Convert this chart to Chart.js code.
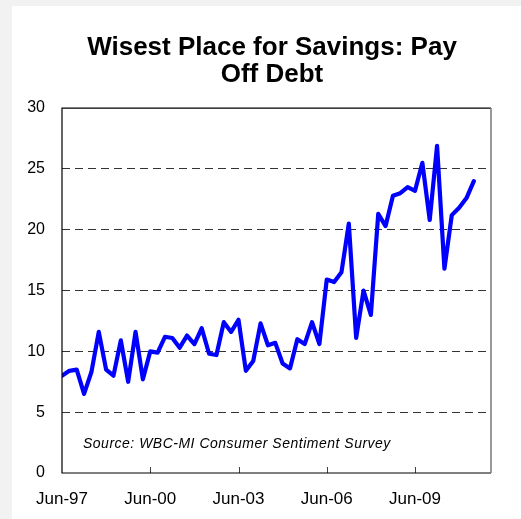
<!DOCTYPE html>
<html>
<head>
<meta charset="utf-8">
<script src="https://cdn.jsdelivr.net/npm/chart.js@4/dist/chart.umd.min.js"></script>
<style>
  html, body { margin: 0; padding: 0; background: #f2f2f2; overflow: hidden; }
  #wrap { position: absolute; left: 12px; top: 6px; width: 509px; height: 513px; background: #ffffff; overflow: hidden; }
  canvas { display: block; }
</style>
</head>
<body>
<div id="wrap"><canvas id="c" width="520" height="513"></canvas></div>
<script>
// ---- Data ----
const quarters = [
  'Jun-97','Sep-97','Dec-97','Mar-98','Jun-98','Sep-98','Dec-98','Mar-99',
  'Jun-99','Sep-99','Dec-99','Mar-00','Jun-00','Sep-00','Dec-00','Mar-01',
  'Jun-01','Sep-01','Dec-01','Mar-02','Jun-02','Sep-02','Dec-02','Mar-03',
  'Jun-03','Sep-03','Dec-03','Mar-04','Jun-04','Sep-04','Dec-04','Mar-05',
  'Jun-05','Sep-05','Dec-05','Mar-06','Jun-06','Sep-06','Dec-06','Mar-07',
  'Jun-07','Sep-07','Dec-07','Mar-08','Jun-08','Sep-08','Dec-08','Mar-09',
  'Jun-09','Sep-09','Dec-09','Mar-10','Jun-10','Sep-10','Dec-10','Mar-11',
  'Jun-11'
];
const payOffDebt = [
  8.0, 8.4, 8.5, 6.5, 8.3, 11.6, 8.5, 8.0,
  10.9, 7.5, 11.6, 7.7, 10.0, 9.9, 11.2, 11.1,
  10.3, 11.3, 10.6, 11.9, 9.8, 9.7, 12.4, 11.6,
  12.6, 8.4, 9.2, 12.3, 10.5, 10.7, 9.0, 8.6,
  11.0, 10.6, 12.4, 10.6, 15.9, 15.7, 16.5, 20.5,
  11.1, 15.0, 13.0, 21.3, 20.3, 22.8, 23.0, 23.5,
  23.2, 25.5, 20.8, 26.9, 16.8, 21.2, 21.8, 22.6,
  24.0
];
const xTickLabels = ['Jun-97','Jun-00','Jun-03','Jun-06','Jun-09'];
const yTicks = [0, 5, 10, 15, 20, 25, 30];
const titleLines = ['Wisest Place for Savings: Pay', 'Off Debt'];
const sourceNote = 'Source: WBC-MI Consumer Sentiment Survey';

// months since Jun-97
const monthNum = {Jan:0,Feb:1,Mar:2,Apr:3,May:4,Jun:5,Jul:6,Aug:7,Sep:8,Oct:9,Nov:10,Dec:11};
function monthsSince(label) {
  const [m, y] = label.split('-');
  let yr = parseInt(y, 10);
  yr += yr > 50 ? 1900 : 2000;
  return (yr - 1997) * 12 + (monthNum[m] - 5);
}
const points = quarters.map((q, i) => ({ x: monthsSince(q), y: payOffDebt[i] }));
const xTickValues = xTickLabels.map(monthsSince);

const FONT = "'Liberation Sans', Arial, sans-serif";

const framePlugin = {
  id: 'frame',
  afterDatasetsDraw(chart) {
    const { ctx, chartArea: a, scales } = chart;
    ctx.save();
    // inner tick marks on x axis
    ctx.strokeStyle = '#404040';
    ctx.lineWidth = 1;
    xTickValues.forEach(v => {
      if (v === 0) return;
      const px = Math.round(scales.x.getPixelForValue(v)) + 0.5;
      ctx.beginPath();
      ctx.moveTo(px, a.bottom);
      ctx.lineTo(px, a.bottom - 6);
      ctx.stroke();
    });
    // frame
    ctx.strokeStyle = '#000';
    ctx.lineWidth = 1.2;
    ctx.beginPath();
    ctx.moveTo(a.right, a.top);
    ctx.lineTo(a.left, a.top);
    ctx.lineTo(a.left, a.bottom);
    ctx.lineTo(a.right, a.bottom);
    ctx.stroke();
    ctx.strokeStyle = '#7f7f7f';
    ctx.lineWidth = 1.6;
    ctx.beginPath();
    ctx.moveTo(a.right, a.top);
    ctx.lineTo(a.right, a.bottom);
    ctx.stroke();
    // source note
    ctx.fillStyle = '#000';
    ctx.font = 'italic 14px ' + FONT;
    try { ctx.letterSpacing = '0.5px'; } catch (e) {}
    ctx.textAlign = 'left';
    ctx.textBaseline = 'alphabetic';
    ctx.fillText(sourceNote, a.left + 21, a.bottom - 25);
    ctx.restore();
  }
};

new Chart(document.getElementById('c'), {
  type: 'line',
  data: {
    datasets: [{
      label: 'Pay Off Debt',
      data: points,
      borderColor: '#0000ff',
      borderWidth: 4.2,
      borderJoinStyle: 'round',
      borderCapStyle: 'round',
      pointRadius: 0,
      tension: 0,
      fill: false
    }]
  },
  options: {
    responsive: false,
    animation: false,
    devicePixelRatio: 1,
    layout: { padding: { left: 0, right: 0, top: 0, bottom: 0 } },
    plugins: {
      legend: { display: false },
      tooltip: { enabled: false },
      title: {
        display: true,
        text: titleLines,
        color: '#000',
        font: { family: FONT, size: 26, weight: 'bold', lineHeight: 1.04 },
        padding: { top: 28, bottom: 20 }
      }
    },
    scales: {
      x: {
        type: 'linear',
        min: 0,
        max: 175,
        afterBuildTicks: s => { s.ticks = xTickValues.map(v => ({ value: v })); },
        afterFit: s => { s.height = 46; },
        grid: { display: false, drawTicks: false },
        border: { display: false },
        ticks: {
          autoSkip: false,
          maxRotation: 0,
          padding: 16,
          color: '#000',
          font: { family: FONT, size: 17 },
          callback: v => xTickLabels[xTickValues.indexOf(v)] || ''
        }
      },
      y: {
        min: 0,
        max: 30,
        afterBuildTicks: s => { s.ticks = yTicks.map(v => ({ value: v })); },
        afterFit: s => { s.width = 50; },
        grid: {
          drawTicks: false,
          color: c => (c.tick && (c.tick.value === 0 || c.tick.value === 30)) ? 'rgba(0,0,0,0)' : '#333333',
          lineWidth: 1
        },
        border: { display: false, dash: [8, 5] },
        ticks: {
          padding: 17,
          color: '#000',
          font: { family: FONT, size: 16 }
        }
      },
      // empty spacer on the right so the title centres like the original
      spacer: {
        type: 'linear',
        position: 'right',
        display: true,
        afterFit: s => { s.width = 41; },
        grid: { display: false, drawTicks: false },
        border: { display: false },
        ticks: { display: false }
      }
    }
  },
  plugins: [framePlugin]
});
</script>
</body>
</html>
